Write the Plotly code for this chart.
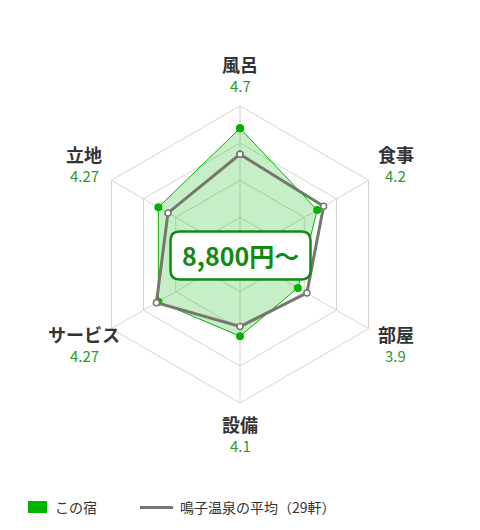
import math

import plotly.graph_objects as go

# 評価カテゴリとスコア
categories = ["風呂", "食事", "部屋", "設備", "サービス", "立地"]
this_inn = [4.7, 4.2, 3.9, 4.1, 4.27, 4.27]
area_avg = [4.35, 4.30, 4.04, 3.97, 4.30, 4.12]
value_labels = ["4.7", "4.2", "3.9", "4.1", "4.27", "4.27"]
price_text = "8,800円～"
legend_names = ["この宿", "鳴子温泉の平均（29軒）"]

W, H = 480, 530
OFF = 8  # page body margin
cx, cy = 240, 254.5  # center in px (from top of window)
R = 148.5

GREEN = "#00b400"
GRAY = "#76766e"
GRID = "#d6d4cc"
DARK_GREEN = "#108a10"
FONT = "Noto Sans CJK JP"


def px2paper(x, y):
    return (x - OFF) / W, (H - (y - OFF)) / H


fig = go.Figure()

# close the polygons
theta = categories + categories[:1]

fig.add_trace(go.Scatterpolar(
    r=this_inn + this_inn[:1], theta=theta,
    mode="lines+markers", fill="toself",
    fillcolor="rgba(0,180,0,0.22)",
    line=dict(color=GREEN, width=1),
    marker=dict(color=GREEN, size=8),
    showlegend=False, hoverinfo="skip",
))
fig.add_trace(go.Scatterpolar(
    r=area_avg + area_avg[:1], theta=theta,
    mode="lines+markers",
    line=dict(color=GRAY, width=3),
    marker=dict(color="white", size=6, line=dict(color=GRAY, width=1.5)),
    showlegend=False, hoverinfo="skip",
))

dx0, dy0 = px2paper(cx - R, cy + R)
dx1, dy1 = px2paper(cx + R, cy - R)
fig.update_layout(
    width=W, height=H,
    margin=dict(l=0, r=0, t=0, b=0),
    paper_bgcolor="white",
    showlegend=False,
    font=dict(family=FONT, color="#333333"),
    polar=dict(
        domain=dict(x=[dx0, dx1], y=[dy0, dy1]),
        bgcolor="white",
        gridshape="linear",
        radialaxis=dict(range=[3, 5], tickvals=[3.5, 4, 4.5, 5],
                        showticklabels=False, ticks="", showline=False,
                        gridcolor=GRID, gridwidth=1),
        angularaxis=dict(rotation=90, direction="clockwise",
                         showticklabels=False, ticks="",
                         showline=True, linecolor=GRID, linewidth=1,
                         gridcolor=GRID, gridwidth=1),
    ),
)

# category labels around the chart (name above, score below)
label_r = 180
for i, (name, val) in enumerate(zip(categories, value_labels)):
    ang = math.radians(90 - i * 60)
    x, y = px2paper(cx + label_r * math.cos(ang), cy - label_r * math.sin(ang))
    fig.add_annotation(x=x, y=y, xref="paper", yref="paper",
                       xanchor="center", yanchor="middle", borderpad=0,
                       text="<b>" + name + "</b>", showarrow=False, yshift=11,
                       font=dict(size=18, color="#333333", family=FONT))
    fig.add_annotation(x=x, y=y, xref="paper", yref="paper",
                       xanchor="center", yanchor="middle", borderpad=0,
                       text=val, showarrow=False, yshift=-11,
                       font=dict(size=15, color="#2a9a2a", family=FONT))

# price box in the middle (rounded)
bw, bh, rr = 140, 48, 9
path = (f"M {-bw/2 + rr},{-bh/2} L {bw/2 - rr},{-bh/2} Q {bw/2},{-bh/2} {bw/2},{-bh/2 + rr} "
        f"L {bw/2},{bh/2 - rr} Q {bw/2},{bh/2} {bw/2 - rr},{bh/2} "
        f"L {-bw/2 + rr},{bh/2} Q {-bw/2},{bh/2} {-bw/2},{bh/2 - rr} "
        f"L {-bw/2},{-bh/2 + rr} Q {-bw/2},{-bh/2} {-bw/2 + rr},{-bh/2} Z")
bx, by = px2paper(240.5, 255.5)
fig.add_shape(type="path", path=path, xref="paper", yref="paper",
              xsizemode="pixel", ysizemode="pixel", xanchor=bx, yanchor=by,
              fillcolor="white", line=dict(color=DARK_GREEN, width=2.5), layer="above")
fig.add_annotation(x=bx, y=by, xref="paper", yref="paper",
                   xanchor="center", yanchor="middle",
                   text="<b>" + price_text + "</b>", showarrow=False,
                   font=dict(size=25, color=DARK_GREEN, family=FONT))

# legend drawn by hand
x0, y0 = px2paper(28, 501)
x1, y1 = px2paper(47, 513)
fig.add_shape(type="rect", xref="paper", yref="paper", x0=x0, y0=y0, x1=x1, y1=y1,
              fillcolor=GREEN, line=dict(width=0))
lx, ly = px2paper(53, 507)
fig.add_annotation(x=lx, y=ly, xref="paper", yref="paper", xanchor="left", yanchor="middle",
                   text=legend_names[0], showarrow=False,
                   font=dict(size=14, color="#333333", family=FONT))
x0, y0 = px2paper(140, 507.5)
x1, _ = px2paper(173, 507.5)
fig.add_shape(type="line", xref="paper", yref="paper", x0=x0, y0=y0, x1=x1, y1=y0,
              line=dict(color=GRAY, width=3))
lx, ly = px2paper(178, 507)
fig.add_annotation(x=lx, y=ly, xref="paper", yref="paper", xanchor="left", yanchor="middle",
                   text=legend_names[1], showarrow=False,
                   font=dict(size=14, color="#333333", family=FONT))

fig.write_html("out.html")
